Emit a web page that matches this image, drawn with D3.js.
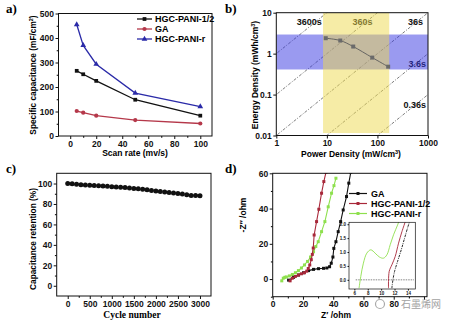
<!DOCTYPE html>
<html>
<head>
<meta charset="utf-8">
<script src="https://cdn.jsdelivr.net/npm/d3@7"></script>
<style>
  body { margin: 0; background: #fff; }
  svg { display: block; font-family: "Liberation Sans", Arial, sans-serif; font-weight: bold; }
</style>
</head>
<body>
<svg id="fig" width="454" height="322"></svg>
<script>
// ---- panel a: specific capacitance vs scan rate
const scanRates = [5, 10, 20, 50, 100];
const capPaniHalf = [266, 252, 225, 148, 83];
const capGA = [102, 95, 83, 65, 51];
const capPaniR = [455, 370, 293, 175, 120];
const seriesNamesA = ["HGC-PANI-1/2", "GA", "HGC-PANI-r"];

// ---- panel b: Ragone plot
const powerDensity = [9.5, 18.4, 33.2, 79, 163];
const energyDensity = [2.38, 2.09, 1.49, 0.80, 0.48];
const timeLines = [3600, 360, 36, 3.6, 0.36];
const timeLabels = ["3600s", "360s", "36s", "3.6s", "0.36s"];
const powerBand = [8.4, 171];      // yellow
const energyBand = [0.41, 2.93];   // blue

// ---- panel c: cycling stability
const cycles = [0, 100, 200, 300, 400, 500, 600, 700, 800, 900, 1000, 1100, 1200, 1300, 1400, 1500,
  1600, 1700, 1800, 1900, 2000, 2100, 2200, 2300, 2400, 2500, 2600, 2700, 2800, 2900, 3000];
const retention = [100, 99.8, 99.3, 98.9, 98.6, 98.3, 98.1, 97.9, 97.6, 97.3, 96.9, 96.6, 96.3, 96.0, 95.6, 95.2,
  94.8, 94.4, 93.9, 93.3, 92.8, 92.3, 91.8, 91.3, 90.7, 90.2, 89.8, 89.0, 88.4, 88.2, 88.0];

// ---- panel d: Nyquist plot
const gaRe = [10.5, 13.8, 17.1, 20.4, 23.7, 27.0, 30.3, 33.6, 35.8, 37.6, 38.7, 39.8, 40.4, 41.8, 43.3, 44.9, 46.6, 48.8, 50.3, 51.6];
const gaIm = [-0.6, 1.0, 2.3, 3.6, 4.8, 5.5, 5.9, 6.1, 6.3, 7.0, 9.0, 12.5, 17.4, 21.2, 26.9, 32.6, 39.2, 46.8, 54.4, 60.5];
const halfRe = [11.5, 13, 15, 17, 19, 21, 22.5, 23.5, 24.5, 25.5, 26.2, 26.8, 27.4, 29.0, 30.5, 32.3, 33.8, 35.2];
const halfIm = [-1, 0.5, 1.5, 2.3, 3.0, 3.6, 4.5, 6, 8, 11, 14, 17.6, 25, 32.6, 39.6, 48.7, 55.3, 60.5];
const rRe = [6, 7, 8, 9, 11, 13, 15, 17, 19, 21, 23, 25, 27, 28.5, 30.1, 32.3, 34.5, 36.7, 38.9, 40.5, 41.8];
const rIm = [-1, 0.5, 1, 1.2, 1.8, 2.6, 3.6, 4.8, 6.3, 8, 10, 12.5, 15.5, 18.5, 21.2, 26.9, 32.6, 41, 48.7, 53, 57.2];
const seriesNamesD = ["GA", "HGC-PANI-1/2", "HGC-PANI-r"];
// inset (high frequency region)
const rInRe = [6.7, 6.96, 7.35, 7.86, 8.46, 9.1, 9.75, 10.35, 10.86, 11.35, 11.85, 12.45, 12.8];
const rInIm = [-0.3, 0.12, 0.60, 0.96, 1.08, 0.96, 0.82, 0.78, 0.90, 1.26, 1.62, 1.97, 2.2];
const halfInRe = [11.1, 11.2, 11.6, 12.1, 12.6, 13.1, 13.6];
const halfInIm = [-0.3, 0.30, 0.54, 0.84, 1.32, 1.73, 2.09];
const gaInRe = [11.6, 11.76, 12.0, 12.45, 13.0, 13.5, 14.0, 14.3];
const gaInIm = [-0.3, 0, 0.3, 0.66, 1.08, 1.5, 1.91, 2.13];

const svg = d3.select("#fig");
const TICK_FONT = 8.5;

// draw box + outward ticks for one panel
function drawAxes(g, x, y, xTicks, yTicks, opts = {}) {
  const [x0, x1] = x.range();
  const [y0, y1] = y.range(); // y0 = bottom
  const fs = opts.fontSize || TICK_FONT;
  const xa = g.append("g").attr("transform", `translate(0,${y0})`)
    .call(d3.axisBottom(x).tickValues(xTicks).tickSize(opts.tick || 3).tickPadding(1.5)
      .tickFormat(opts.xFormat || d3.format("")));
  const ya = g.append("g").attr("transform", `translate(${x0},0)`)
    .call(d3.axisLeft(y).tickValues(yTicks).tickSize(opts.tick || 3).tickPadding(1.5)
      .tickFormat(opts.yFormat || d3.format("")));
  [xa, ya].forEach(a => {
    a.select(".domain").remove();
    a.selectAll("text").attr("font-size", fs).attr("font-weight", "bold")
      .attr("font-family", "Liberation Sans, Arial, sans-serif").attr("fill", "#111");
    a.selectAll("line").attr("stroke", "#111");
  });
  if (opts.xMinor) {
    g.append("g").attr("transform", `translate(0,${y0})`)
      .call(d3.axisBottom(x).tickValues(opts.xMinor).tickSize(1.8).tickFormat(""))
      .call(a => a.select(".domain").remove());
  }
  if (opts.yMinor) {
    g.append("g").attr("transform", `translate(${x0},0)`)
      .call(d3.axisLeft(y).tickValues(opts.yMinor).tickSize(1.8).tickFormat(""))
      .call(a => a.select(".domain").remove());
  }
  g.append("rect").attr("x", x0).attr("y", y1).attr("width", x1 - x0).attr("height", y0 - y1)
    .attr("fill", "none").attr("stroke", "#111").attr("stroke-width", opts.frame || 1);
}

function clipFor(id, x, y) {
  const [x0, x1] = x.range();
  const [y0, y1] = y.range();
  svg.append("clipPath").attr("id", id).append("rect")
    .attr("x", x0).attr("y", y1).attr("width", x1 - x0).attr("height", y0 - y1);
  return `url(#${id})`;
}

function panelLabel(txt, x, y) {
  svg.append("text").attr("x", x).attr("y", y).text(txt)
    .attr("font-family", "Liberation Serif, Times New Roman, serif")
    .attr("font-size", 13).attr("font-weight", "bold");
}

// ================= panel a =================
{
  const x = d3.scaleLinear([-9, 109], [58.5, 212]);
  const y = d3.scaleLinear([0, 500], [136, 13.5]);
  const g = svg.append("g");
  drawAxes(g, x, y, [0, 20, 40, 60, 80, 100], [0, 100, 200, 300, 400, 500],
    { xMinor: [10, 30, 50, 70, 90], yMinor: [50, 150, 250, 350, 450] });
  const colors = ["#111", "#b5384a", "#2a2aa8"];
  const symbols = [d3.symbolSquare, d3.symbolCircle, d3.symbolTriangle];
  const values = [capPaniHalf, capGA, capPaniR];
  const line = d3.line().x((d, i) => x(scanRates[i])).y(d => y(d));
  values.forEach((vals, k) => {
    g.append("path").attr("d", line(vals)).attr("fill", "none")
      .attr("stroke", colors[k]).attr("stroke-width", 1.3);
    g.selectAll(null).data(vals).join("path")
      .attr("transform", (d, i) => `translate(${x(scanRates[i])},${y(d)})`)
      .attr("d", d3.symbol(symbols[k], 14)).attr("fill", colors[k]);
  });
  // legend
  const lg = g.append("g");
  seriesNamesA.forEach((name, k) => {
    const yy = 19 + k * 10;
    lg.append("line").attr("x1", 137).attr("x2", 152).attr("y1", yy).attr("y2", yy)
      .attr("stroke", colors[k]).attr("stroke-width", 1.3);
    lg.append("path").attr("transform", `translate(144.5,${yy})`)
      .attr("d", d3.symbol(symbols[k], 14)).attr("fill", colors[k]);
    lg.append("text").attr("x", 155).attr("y", yy + 3.2).attr("font-size", 9).text(name);
  });
  g.append("text").attr("x", 135).attr("y", 156).attr("text-anchor", "middle")
    .attr("font-size", 8.5).text("Scan rate (mv/s)");
  const yl = g.append("text").attr("transform", "translate(36,75) rotate(-90)")
    .attr("text-anchor", "middle").attr("font-size", 8.3);
  yl.append("tspan").text("Specific capacitance (mF/cm");
  yl.append("tspan").attr("font-size", 5.5).attr("dy", -3).text("2");
  yl.append("tspan").attr("dy", 3).text(")");
  panelLabel("a)", 6, 13);
}

// ================= panel b =================
{
  const x = d3.scaleLog([1, 1000], [276.3, 428]);
  const y = d3.scaleLog([0.01, 10], [135.5, 12.7]);
  const g = svg.append("g");
  const clip = clipFor("clipB", x, y);
  const inner = g.append("g").attr("clip-path", clip);

  // constant-time lines E = P * t / 3600
  const pGrid = [0.5, 2000];
  timeLines.forEach(t => {
    inner.append("path")
      .attr("d", d3.line().x(p => x(p)).y(p => y(p * t / 3600))(pGrid))
      .attr("fill", "none").attr("stroke", "#444").attr("stroke-width", 0.7)
      .attr("stroke-dasharray", "3,1.5,1,1.5");
  });
  timeLines.forEach((t, k) => {
    let tx, ty;
    if (t >= 36) { tx = x(10 * 3600 / t) - 5; ty = y(10) + 12; }
    else { tx = x(1000) - 2; ty = y(1000 * t / 3600) + 13; }
    inner.append("text").attr("x", tx).attr("y", ty).attr("text-anchor", "end")
      .attr("font-size", 9).attr("fill", "#111").text(timeLabels[k]);
  });

  // shaded bands on top (semi-transparent)
  inner.append("rect").attr("x", x(1)).attr("width", x(1000) - x(1))
    .attr("y", y(energyBand[1])).attr("height", y(energyBand[0]) - y(energyBand[1]))
    .attr("fill", "rgb(53,53,225)").attr("opacity", 0.5);
  inner.append("rect").attr("x", x(powerBand[0])).attr("width", x(powerBand[1]) - x(powerBand[0]))
    .attr("y", y(10)).attr("height", y(0.0115) - y(10))
    .attr("fill", "rgb(237,217,77)").attr("opacity", 0.5);

  // data
  inner.append("path")
    .attr("d", d3.line().curve(d3.curveCatmullRom).x((d, i) => x(powerDensity[i])).y(d => y(d))(energyDensity))
    .attr("fill", "none").attr("stroke", "#5a5a5a").attr("stroke-width", 0.9);
  inner.selectAll(null).data(energyDensity).join("rect")
    .attr("x", (d, i) => x(powerDensity[i]) - 2).attr("y", d => y(d) - 2)
    .attr("width", 4).attr("height", 4).attr("fill", "#6a6a6a");

  drawAxes(g, x, y, [1, 10, 100, 1000], [0.01, 0.1, 1, 10],
    { xFormat: d3.format("~g"), yFormat: d3.format("~g") });
  g.append("text").attr("x", 351).attr("y", 157).attr("text-anchor", "middle")
    .attr("font-size", 8.5).call(t => {
      t.append("tspan").text("Power Density (mW/cm");
      t.append("tspan").attr("font-size", 5.5).attr("dy", -3).text("3");
      t.append("tspan").attr("dy", 3).text(")");
    });
  g.append("text").attr("transform", "translate(258,75) rotate(-90)")
    .attr("text-anchor", "middle").attr("font-size", 8.5).call(t => {
      t.append("tspan").text("Energy Density (mWh/cm");
      t.append("tspan").attr("font-size", 5.5).attr("dy", -3).text("3");
      t.append("tspan").attr("dy", 3).text(")");
    });
  panelLabel("b)", 225, 13);
}

// ================= panel c =================
{
  const x = d3.scaleLinear([-250, 3250], [56.7, 211]);
  const y = d3.scaleLinear([-10, 110], [296, 173.3]);
  const g = svg.append("g");
  drawAxes(g, x, y, [0, 500, 1000, 1500, 2000, 2500, 3000], [0, 20, 40, 60, 80, 100],
    { xMinor: [250, 750, 1250, 1750, 2250, 2750], yMinor: [10, 30, 50, 70, 90] });
  g.selectAll(null).data(retention).join("circle")
    .attr("cx", (d, i) => x(cycles[i])).attr("cy", d => y(d)).attr("r", 2.5).attr("fill", "#111");
  g.append("text").attr("x", 132).attr("y", 318).attr("text-anchor", "middle")
    .attr("font-family", "Liberation Serif, Times New Roman, serif").attr("font-size", 9.5)
    .text("Cycle number");
  g.append("text").attr("transform", "translate(36,239) rotate(-90)")
    .attr("text-anchor", "middle").attr("font-size", 8.3).text("Capacitance retention (%)");
  panelLabel("c)", 6, 173);
}

// ================= panel d =================
{
  const x = d3.scaleLinear([0, 102], [272.7, 427]);
  const y = d3.scaleLinear([-10, 60], [296.7, 173.3]);
  const g = svg.append("g");
  const clip = clipFor("clipD", x, y);
  const inner = g.append("g").attr("clip-path", clip);
  const colors = ["#111", "#a8283a", "#8ee04e"];
  const sets = [[gaRe, gaIm], [halfRe, halfIm], [rRe, rIm]];
  [2, 0, 1].forEach(k => {
    const [re, im] = sets[k];
    inner.append("path")
      .attr("d", d3.line().x((d, i) => x(d)).y((d, i) => y(im[i]))(re))
      .attr("fill", "none").attr("stroke", colors[k]).attr("stroke-width", 1.1);
    inner.selectAll(null).data(re).join("rect")
      .attr("x", d => x(d) - 1.5).attr("y", (d, i) => y(im[i]) - 1.5)
      .attr("width", 3).attr("height", 3).attr("fill", colors[k]);
  });
  drawAxes(g, x, y, [0, 20, 40, 60, 80, 100], [0, 20, 40, 60],
    { xFormat: d => d === 100 ? "" : d, xMinor: [10, 30, 50, 70, 90], yMinor: [-10, 10, 30, 50] });

  // legend
  seriesNamesD.forEach((name, k) => {
    const yy = 193.5 + k * 10;
    g.append("line").attr("x1", 349).attr("x2", 367).attr("y1", yy).attr("y2", yy)
      .attr("stroke", colors[k]).attr("stroke-width", 1.2);
    g.append("rect").attr("x", 356.5).attr("y", yy - 1.5).attr("width", 3).attr("height", 3)
      .attr("fill", colors[k]);
    g.append("text").attr("x", 371).attr("y", yy + 3.2).attr("font-size", 9).text(name);
  });

  // inset
  const xi = d3.scaleLinear([5.2, 15.1], [349, 415.3]);
  const yi = d3.scaleLinear([-0.33, 2.07], [289, 222.3]);
  const ig = g.append("g");
  const iclip = clipFor("clipI", xi, yi);
  const iin = ig.append("g").attr("clip-path", iclip);
  iin.append("line").attr("x1", xi(6.2)).attr("x2", xi(14.9)).attr("y1", yi(0)).attr("y2", yi(0))
    .attr("stroke", "#333").attr("stroke-width", 0.6).attr("stroke-dasharray", "1.5,1");
  const insetSets = [[gaInRe, gaInIm], [halfInRe, halfInIm], [rInRe, rInIm]];
  insetSets.forEach(([re, im], k) => {
    iin.append("path")
      .attr("d", d3.line().curve(d3.curveCatmullRom).x(d => xi(d)).y((d, i) => yi(im[i]))(re))
      .attr("fill", "none").attr("stroke", colors[k]).attr("stroke-width", 0.9)
      .attr("stroke-dasharray", k === 0 ? "2.5,1,0.8,1" : null);
  });
  drawAxes(ig, xi, yi, [6, 8, 10, 12, 14], [0, 0.5, 1, 1.5, 2],
    { fontSize: 4.5, tick: 1.5, frame: 0.7, yFormat: d3.format(".1f") });

  g.append("text").attr("x", 336).attr("y", 318).attr("text-anchor", "middle")
    .attr("font-size", 8.5).text("Z\u2032 /ohm");
  g.append("text").attr("transform", "translate(246,215) rotate(-90)")
    .attr("text-anchor", "middle").attr("font-size", 8.5).text("-Z\u2033 /ohm");
  panelLabel("d)", 225, 173);

  // watermark
  svg.append("circle").attr("cx", 380).attr("cy", 304).attr("r", 4.5)
    .attr("fill", "none").attr("stroke", "#aaa").attr("stroke-width", 1.2);
  svg.append("text").attr("x", 401).attr("y", 308).attr("font-size", 10).attr("font-weight", "normal")
    .attr("font-family", "Noto Sans CJK SC, sans-serif").attr("fill", "#999").attr("opacity", 0.9)
    .text("石墨烯网");
}
</script>
</body>
</html>
